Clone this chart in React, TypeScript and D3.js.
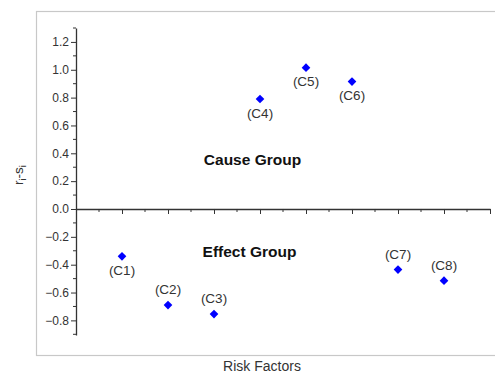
import React, { useEffect, useRef } from 'react'
import * as d3 from 'd3'

const categories = ['(C1)', '(C2)', '(C3)', '(C4)', '(C5)', '(C6)', '(C7)', '(C8)']
const values = [-0.34, -0.69, -0.755, 0.79, 1.015, 0.915, -0.435, -0.515]
// label placed above (true) or below (false) the point
const labelAbove = [false, true, true, false, false, false, true, true]
const yTicks = [-0.8, -0.6, -0.4, -0.2, 0.0, 0.2, 0.4, 0.6, 0.8, 1.0, 1.2]

const W = 495
const H = 374

export default function App() {
  const svgRef = useRef<SVGSVGElement>(null)

  useEffect(() => {
    if (!svgRef.current) return
    const svg = d3.select(svgRef.current)
    svg.selectAll('*').remove()

    const x = d3.scaleLinear().domain([0, 9]).range([76, 490])
    const y = d3.scaleLinear().domain([-0.905, 1.3]).range([335, 28])

    const font = 'Arial, "Liberation Sans", sans-serif'

    // outer frame
    svg.append('rect')
      .attr('x', 36.5).attr('y', 11.5)
      .attr('width', 470).attr('height', 344)
      .attr('fill', 'none').attr('stroke', '#c8c8c8').attr('stroke-width', 1.2)

    // y axis
    const yAxis = svg.append('g')
      .attr('transform', `translate(${x(0)},0)`)
      .call(d3.axisLeft(y).tickValues(yTicks).tickFormat(d3.format('.1f')).tickSize(5).tickSizeOuter(0))
    yAxis.select('.domain').attr('stroke', '#333').attr('stroke-width', 1.3)
    yAxis.selectAll('.tick line').attr('stroke', '#333')
    yAxis.selectAll('.tick text').attr('font-size', 12).attr('font-family', font).attr('fill', '#333').attr('x', -7)

    // minor y ticks
    const minorY = d3.range(-9, 14).map((i) => i / 10).filter((v) => Math.abs(Math.round(v * 10) % 2) === 1)
    svg.append('g').selectAll('line').data(minorY).enter().append('line')
      .attr('x1', x(0) - 3).attr('x2', x(0))
      .attr('y1', (d) => y(d)).attr('y2', (d) => y(d))
      .attr('stroke', '#333')

    // x axis at zero
    const xAxis = svg.append('g')
      .attr('transform', `translate(0,${y(0)})`)
      .call(d3.axisBottom(x).tickValues(d3.range(1, 10)).tickFormat(() => '').tickSize(5).tickSizeOuter(0))
    xAxis.select('.domain').attr('stroke', '#333').attr('stroke-width', 1.3)
    xAxis.selectAll('.tick line').attr('stroke', '#333')

    svg.append('g').selectAll('line').data(d3.range(0.5, 9, 1)).enter().append('line')
      .attr('x1', (d) => x(d)).attr('x2', (d) => x(d))
      .attr('y1', y(0)).attr('y2', y(0) + 3)
      .attr('stroke', '#333')

    // points
    const diamond = d3.symbol().type(d3.symbolDiamond2).size(48)
    svg.append('g').selectAll('path').data(values).enter().append('path')
      .attr('d', diamond)
      .attr('transform', (d, i) => `translate(${x(i + 1)},${y(d)})`)
      .attr('fill', '#0000ff')

    // point labels
    svg.append('g').selectAll('text').data(categories).enter().append('text')
      .attr('x', (d, i) => x(i + 1))
      .attr('y', (d, i) => y(values[i]) + (labelAbove[i] ? -11 : 18.5))
      .attr('text-anchor', 'middle')
      .attr('font-size', 13.5).attr('font-family', font).attr('fill', '#333')
      .text((d) => d)

    // group labels
    svg.append('text').attr('x', 252.5).attr('y', 165).attr('text-anchor', 'middle')
      .attr('font-size', 15.5).attr('font-weight', 'bold').attr('font-family', font).attr('fill', '#111')
      .text('Cause Group')
    svg.append('text').attr('x', 249.5).attr('y', 256.5).attr('text-anchor', 'middle')
      .attr('font-size', 15.5).attr('font-weight', 'bold').attr('font-family', font).attr('fill', '#111')
      .text('Effect Group')

    // axis titles
    svg.append('text').attr('x', 262).attr('y', 371).attr('text-anchor', 'middle')
      .attr('font-size', 14).attr('font-family', font).attr('fill', '#333')
      .text('Risk Factors')

    const yl = svg.append('text')
      .attr('transform', `translate(23,${175}) rotate(-90)`)
      .attr('text-anchor', 'middle')
      .attr('font-size', 13.5).attr('font-family', font).attr('fill', '#333')
    yl.append('tspan').text('r')
    yl.append('tspan').attr('font-size', 9).attr('dy', 3).text('i')
    yl.append('tspan').attr('dy', -3).text('-s')
    yl.append('tspan').attr('font-size', 9).attr('dy', 3).text('i')
  }, [])

  return (
    <svg
      ref={svgRef}
      width={W}
      height={H}
      style={{ position: 'absolute', left: 0, top: 0, background: '#fff' }}
    />
  )
}
